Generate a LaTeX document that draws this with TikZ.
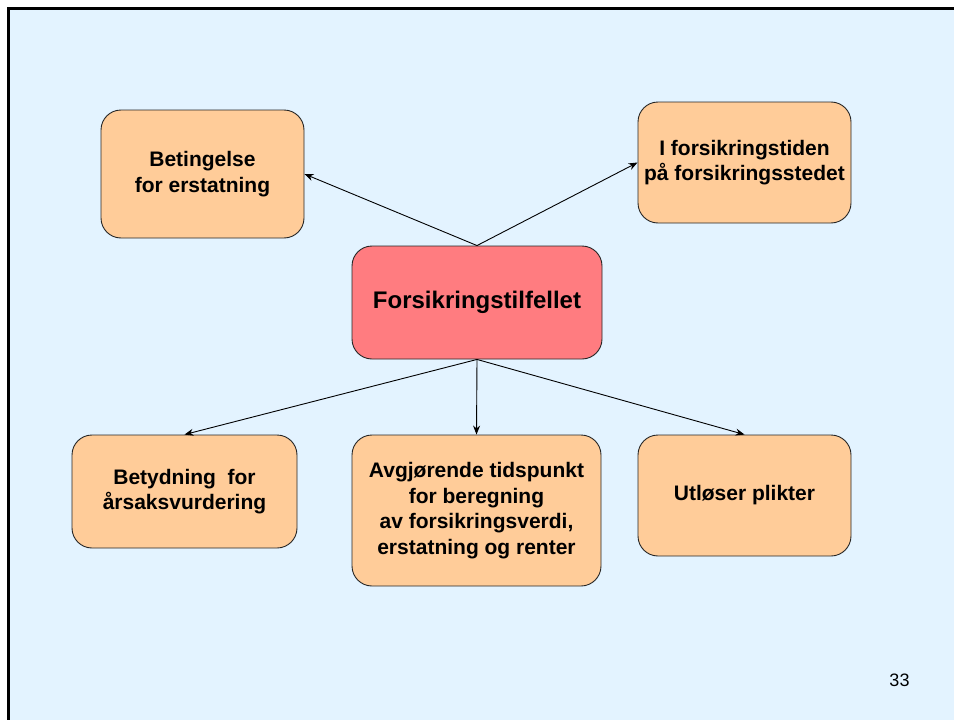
\documentclass[tikz,border=0pt]{standalone}
\usepackage{fontspec}
\setmainfont{Liberation Sans}
\usetikzlibrary{arrows.meta}
\definecolor{slidebg}{HTML}{E3F3FF}
\definecolor{boxfill}{HTML}{FFCC99}
\definecolor{corefill}{HTML}{FF7C80}
\tikzset{
  card/.style={draw=black!85, line width=0.9pt, rounded corners=20pt,
    align=center, inner sep=0pt, font=\bfseries\fontsize{21}{25.5}\selectfont},
  core/.style={card, fill=corefill, font=\bfseries\fontsize{24}{28}\selectfont},
  leaf/.style={card, fill=boxfill},
  link/.style={line width=0.9pt, -{Stealth[length=9pt,width=7pt]}}
}
\begin{document}
\begin{tikzpicture}[x=1pt,y=-1pt]
\useasboundingbox (0,0) rectangle (954,720);
% slide background and frame
\fill[slidebg] (8,8) rectangle (954,720);
\draw[line width=3pt] (8,720) -- (8,8) -- (954,8);

% boxes
\node[core, minimum width=250pt, minimum height=113pt] (hub) at (477,302.5) {Forsikringstilfellet};
\node[leaf, minimum width=203pt, minimum height=128pt] (cond) at (202.5,174) {Betingelse\\for erstatning};
\node[leaf, minimum width=213pt, minimum height=121pt] (time) at (744.5,162.5) {I forsikringstiden\\på forsikringsstedet};
\node[leaf, minimum width=225pt, minimum height=113pt] (cause) at (184.5,491.5) {Betydning\ \ for\\årsaksvurdering};
\node[leaf, minimum width=249pt, minimum height=151pt] (calc) at (476.5,510.5) {Avgjørende tidspunkt\\for beregning\\av forsikringsverdi,\\erstatning og renter};
\node[leaf, minimum width=213pt, minimum height=121pt] (duty) at (744.5,495.5) {Utløser plikter};

% connectors
\draw[link] (hub.north) -- (cond.east);
\draw[link] (hub.north) -- (time.west);
\draw[link] (hub.south) -- (cause.north);
\draw[link] (hub.south) -- (calc.north);
\draw[link] (hub.south) -- (duty.north);

% page number
\node[font=\fontsize{18}{20}\selectfont] (pageno) at (899.5,680) {33};
\end{tikzpicture}
\end{document}
